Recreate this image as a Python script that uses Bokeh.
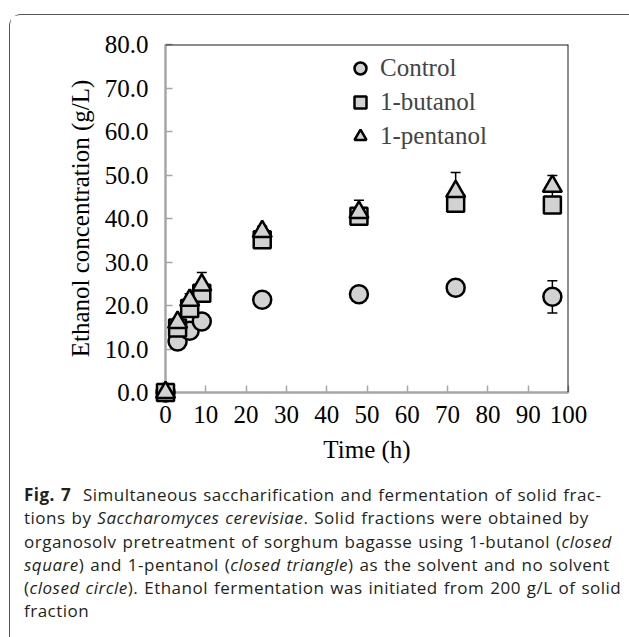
from bokeh.plotting import figure
from bokeh.models import (Span, Legend, LegendItem, FixedTicker, NumeralTickFormatter,
                          Div, Range1d)
from bokeh.layouts import column
from bokeh.embed import file_html
from bokeh.resources import INLINE

# ---- data ----
time_h = [0, 3, 6, 9, 24, 48, 72, 96]
control = [0.0, 11.7, 14.2, 16.3, 21.3, 22.6, 24.1, 22.0]
control_err = [0.0, 0.5, 0.8, 1.0, 0.8, 0.8, 1.0, 3.7]
butanol = [0.0, 14.8, 19.3, 22.8, 35.1, 40.5, 43.5, 43.1]
butanol_err = [0.0, 0.8, 1.0, 1.2, 1.0, 1.2, 1.5, 1.6]
pentanol = [0.0, 16.1, 21.2, 24.7, 37.0, 41.4, 46.2, 47.4]
pentanol_err = [0.0, 1.0, 1.5, 2.9, 1.2, 2.8, 4.4, 2.5]
series_names = ["Control", "1-butanol", "1-pentanol"]
x_ticks = [0, 10, 20, 30, 40, 50, 60, 70, 80, 90, 100]
y_ticks = [0, 10, 20, 30, 40, 50, 60, 70, 80]
x_label = "Time (h)"
y_label = "Ethanol concentration (g/L)"
caption_lines = [
    '<b>Fig. 7</b>&nbsp; Simultaneous saccharification and fermentation of solid frac-',
    'tions by <i>Saccharomyces cerevisiae</i>. Solid fractions were obtained by',
    'organosolv pretreatment of sorghum bagasse using 1-butanol (<i>closed</i>',
    '<i>square</i>) and 1-pentanol (<i>closed triangle</i>) as the solvent and no solvent',
    '(<i>closed circle</i>). Ethanol fermentation was initiated from 200 g/L of solid',
    'fraction',
]

SERIF = "Liberation Serif"
FILL = "#d2d2d2"
AXIS_GRAY = "#a6a6a6"

p = figure(width=620, height=460, x_range=Range1d(0, 100), y_range=Range1d(0, 80),
           output_backend="svg", toolbar_location=None,
           min_border_left=155, min_border_right=62, min_border_top=29, min_border_bottom=83)
p.outline_line_color = None
p.xgrid.visible = False
p.ygrid.visible = False
p.background_fill_color = "white"
p.border_fill_color = "white"

for ax in (p.xaxis[0], p.yaxis[0]):
    ax.axis_line_color = AXIS_GRAY
    ax.axis_line_width = 2.5
    ax.major_tick_line_color = AXIS_GRAY
    ax.major_tick_line_width = 1.5
    ax.major_tick_in = 7
    ax.major_tick_out = 0
    ax.minor_tick_line_color = None
    ax.major_label_text_font = SERIF
    ax.major_label_text_font_size = "25px"
    ax.major_label_text_color = "black"
    ax.axis_label_text_font = SERIF
    ax.axis_label_text_font_size = "25px"
    ax.axis_label_text_font_style = "normal"
    ax.axis_label_text_color = "black"

p.xaxis.ticker = FixedTicker(ticks=x_ticks)
p.yaxis.ticker = FixedTicker(ticks=y_ticks)
p.yaxis.formatter = NumeralTickFormatter(format="0.0")
p.xaxis.axis_label = x_label
p.yaxis.axis_label = y_label
p.yaxis.major_label_standoff = 17
p.yaxis.axis_label_standoff = 8
p.xaxis.major_label_standoff = 13
p.xaxis.axis_label_standoff = 10

# top / right frame borders
p.add_layout(Span(location=80, dimension="width", line_color="#1a1a1a", line_width=2))
p.add_layout(Span(location=100, dimension="height", line_color="#1a1a1a", line_width=2))

# error bars (behind markers)
for vals, errs in ((control, control_err), (butanol, butanol_err), (pentanol, pentanol_err)):
    lo = [v - e for v, e in zip(vals, errs)]
    hi = [v + e for v, e in zip(vals, errs)]
    p.segment(x0=time_h, y0=lo, x1=time_h, y1=hi, line_color="black", line_width=1.5)
    p.scatter(x=time_h + time_h, y=lo + hi, marker="dash", size=10,
              line_color="black", line_width=1.5)

r_c = p.scatter(x=time_h, y=control, marker="circle", size=18, fill_color=FILL,
                line_color="black", line_width=2.5, level="overlay")
r_b = p.scatter(x=time_h, y=butanol, marker="square", size=17, fill_color=FILL,
                line_color="black", line_width=2.5, level="overlay")
r_p = p.scatter(x=time_h, y=pentanol, marker="triangle", size=19, fill_color=FILL,
                line_color="black", line_width=2.5, level="overlay")

legend = Legend(items=[LegendItem(label=series_names[0], renderers=[r_c]),
                       LegendItem(label=series_names[1], renderers=[r_b]),
                       LegendItem(label=series_names[2], renderers=[r_p])],
                location=(180, 241), padding=0, margin=0, spacing=4,
                glyph_width=30, glyph_height=30, label_height=30, label_standoff=5,
                label_text_font=SERIF, label_text_font_size="25px",
                background_fill_alpha=0, border_line_alpha=0)
p.add_layout(legend)

base = "height: 23.3px; line-height: 23.3px; white-space: nowrap;"
html = "".join(f'<div style="{base}">{ln}</div>' for ln in caption_lines)
cap = Div(text=html, width=620, height=160,
          styles={"font-family": "'Open Sans'", "font-size": "17px", "color": "#231f20",
                  "letter-spacing": "0.5px", "word-spacing": "1px",
                  "padding": "3px 0 0 9px", "box-sizing": "border-box", "width": "620px"})

layout = column(p, cap, margin=(14, 0, 0, 9),
                styles={"border": "1px solid #555", "border-bottom": "none",
                        "border-radius": "12px 12px 0 0", "background": "white"})

open("out.html", "w").write(file_html(layout, INLINE))
